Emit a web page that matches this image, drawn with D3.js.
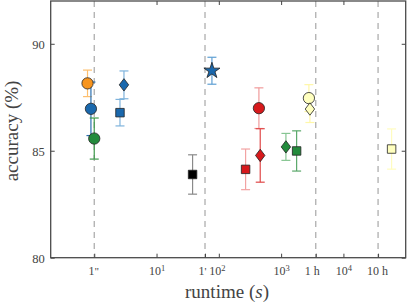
<!DOCTYPE html>
<html>
<head>
<meta charset="utf-8">
<script src="https://cdn.jsdelivr.net/npm/d3@7"></script>
<style>
  body { margin: 0; background: #fff; }
  svg text { font-family: "Times New Roman", "Liberation Serif", "DejaVu Serif", serif !important; }
</style>
</head>
<body>
<div id="chart"></div>
<script>
// runtime in seconds, accuracy in %
let runtimes   = [0.78, 0.885, 1.0, 2.59, 3.0, 37.9, 77.5, 269, 440, 462, 1194, 1774, 2793, 2899, 59400];
let accuracies = [88.15, 86.96, 85.57, 86.78, 88.08, 83.89, 88.74, 84.13, 86.99, 84.78, 85.18, 84.99, 87.46, 86.95, 85.08];
let errors     = [0.62, 1.25, 0.96, 0.62, 0.65, 0.92, 0.63, 0.95, 0.95, 1.25, 0.63, 0.94, 0.63, 0.63, 0.94];
let shapes     = ['circle', 'circle', 'circle', 'square', 'diamond', 'square', 'star', 'square', 'circle', 'diamond', 'diamond', 'square', 'circle', 'diamond', 'square'];
let fills      = ['#f7941d', '#1a68ad', '#238b3c', '#1a68ad', '#1a68ad', '#000000', '#1a68ad', '#d7191c', '#d7191c', '#d7191c', '#238b3c', '#238b3c', '#ffffbf', '#ffffbf', '#ffffbf'];
let barColors  = ['#fdbf6f', '#2a6fb0', '#3f9a4c', '#7fb3dc', '#7fb3dc', '#8a8a8a', '#5e9fd3', '#f2a3a3', '#f09a9a', '#e04848', '#86c592', '#5aa86a', '#fff7a8', '#fff7a8', '#fffcc0'];

let refLines   = [1, 60, 3600, 36000];
let xTicks     = [1, 10, 60, 100, 1000, 3600, 10000, 36000];
let xTickBase  = ['1', '10', '1', '10', '10', '1 h', '10', '10 h'];
let xTickSup   = ['"', '1', "'", '2', '3', '', '4', ''];
let xTickShift = [-1, 0, -3, -2, 0, -4, 0, -1];
let yTicks     = [80, 85, 90];

let margin = {top: 1, right: 1.3, bottom: 46.3, left: 50.7},
    width = 407 - margin.left - margin.right,
    height = 304 - margin.top - margin.bottom;

let svg = d3.select('#chart')
  .append('svg')
    .attr('width', 407)
    .attr('height', 304)
  .append('g')
    .attr('transform', `translate(${margin.left},${margin.top})`);

let x = d3.scaleLog()
  .domain([0.2, 1e5])
  .range([0, width]);

let y = d3.scaleLinear()
  .domain([80, 92])
  .range([height, 0]);

// dashed reference lines
svg.selectAll('.ref')
  .data(refLines)
  .enter()
  .append('line')
    .attr('x1', d => x(d))
    .attr('x2', d => x(d))
    .attr('y1', 0)
    .attr('y2', height)
    .attr('stroke', '#a8a8a8')
    .attr('stroke-width', 1.2)
    .attr('stroke-dasharray', '6,5');

// axes with inward ticks
let xAxis = svg.append('g')
  .attr('transform', `translate(0,${height})`)
  .call(d3.axisBottom(x).tickValues(xTicks).tickSize(-4).tickFormat(''));
svg.append('g')
  .call(d3.axisTop(x).tickValues([10, 100, 1000, 10000]).tickSize(-4).tickFormat(''));
let yAxis = svg.append('g')
  .call(d3.axisLeft(y).tickValues(yTicks).tickSize(-4).tickPadding(6).tickFormat(d3.format('d')));
svg.append('g')
  .attr('transform', `translate(${width},0)`)
  .call(d3.axisRight(y).tickValues(yTicks).tickSize(-4).tickFormat(''));

svg.selectAll('.domain').attr('stroke', 'none');
svg.selectAll('.tick line').attr('stroke', '#444').attr('stroke-width', 1);

yAxis.selectAll('text')
  .attr('font-size', 12.5)
  .attr('fill', '#444')
  .attr('dy', '0.36em');

xAxis.selectAll('.tick').each(function(d, i) {
  let t = d3.select(this).select('text')
    .attr('font-size', 12)
    .attr('fill', '#444')
    .attr('y', 17)
    .attr('dy', 0)
    .attr('x', xTickShift[i]);
  t.text(null);
  t.append('tspan').text(xTickBase[i]);
  if (xTickSup[i]) {
    let isNum = /\d/.test(xTickSup[i]);
    t.append('tspan')
      .attr('dy', isNum ? '-0.42em' : 0)
      .attr('font-size', isNum ? 8.5 : 11)
      .text(xTickSup[i]);
  }
});

// frame
svg.append('rect')
  .attr('width', width)
  .attr('height', height)
  .attr('fill', 'none')
  .attr('stroke', '#4a4a4a')
  .attr('stroke-width', 1.3);

// error bars
let cap = 4.5;
let bars = svg.append('g').selectAll('g')
  .data(runtimes)
  .enter()
  .append('g')
    .attr('stroke', (d, i) => barColors[i])
    .attr('stroke-width', 1.2);
bars.append('line')
  .attr('x1', d => x(d)).attr('x2', d => x(d))
  .attr('y1', (d, i) => y(accuracies[i] + errors[i]))
  .attr('y2', (d, i) => y(accuracies[i] - errors[i]));
bars.append('line')
  .attr('x1', d => x(d) - cap).attr('x2', d => x(d) + cap)
  .attr('y1', (d, i) => y(accuracies[i] + errors[i]))
  .attr('y2', (d, i) => y(accuracies[i] + errors[i]));
bars.append('line')
  .attr('x1', d => x(d) - cap).attr('x2', d => x(d) + cap)
  .attr('y1', (d, i) => y(accuracies[i] - errors[i]))
  .attr('y2', (d, i) => y(accuracies[i] - errors[i]));

// markers
let shapePath = {
  circle: d3.symbol().type(d3.symbolCircle).size(100)(),
  square: d3.symbol().type(d3.symbolSquare).size(72)(),
  diamond: 'M0,-6.2L4.7,0L0,6.2L-4.7,0Z',
  star: d3.symbol().type(d3.symbolStar).size(80)()
};

svg.append('g').selectAll('path')
  .data(runtimes)
  .enter()
  .append('path')
    .attr('transform', (d, i) => `translate(${x(d)},${y(accuracies[i])})`)
    .attr('d', (d, i) => shapePath[shapes[i]])
    .attr('fill', (d, i) => fills[i])
    .attr('stroke', '#222')
    .attr('stroke-width', 0.8);

// axis titles
let root = d3.select('#chart svg');
root.append('text')
  .attr('x', 227)
  .attr('y', 298)
  .attr('text-anchor', 'middle')
  .attr('font-size', 19)
  .attr('fill', '#444')
  .html('runtime (<tspan font-style="italic">s</tspan>)');

root.append('text')
  .attr('transform', 'translate(18,131) rotate(-90)')
  .attr('text-anchor', 'middle')
  .attr('font-size', 19)
  .attr('fill', '#444')
  .text('accuracy (%)');
</script>
</body>
</html>
